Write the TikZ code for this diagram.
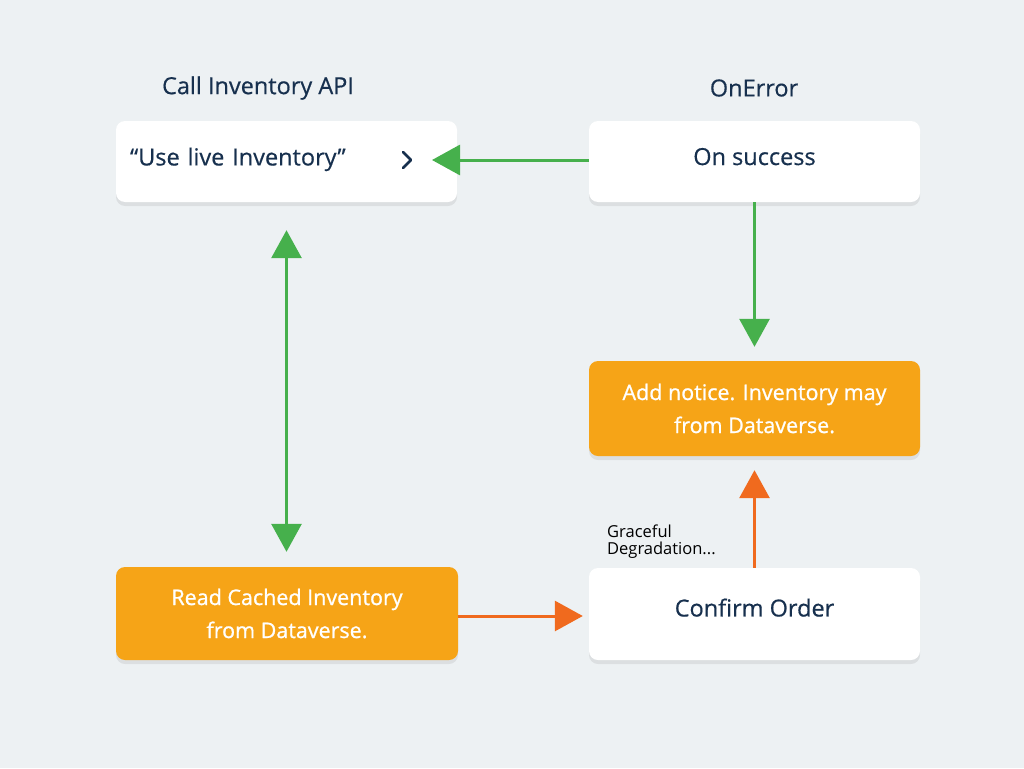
\documentclass[tikz,border=0pt]{standalone}
\usepackage{fontspec}
\setmainfont{Open Sans}
\newfontfamily\medfont{Open Sans}[UprightFeatures={FakeBold=0.5}]
\newfontfamily\semifont{Open Sans}[UprightFeatures={FakeBold=1.0}]
\usetikzlibrary{arrows.meta,shadows,calc}
\definecolor{bg}{HTML}{EDF1F3}
\definecolor{navy}{HTML}{17304E}
\definecolor{boxorange}{HTML}{F6A417}
\definecolor{arrgreen}{HTML}{46B04C}
\definecolor{arrorange}{HTML}{F06A1E}
\tikzset{
  softshadow/.style={drop shadow={shadow xshift=0pt, shadow yshift=-4pt, opacity=0.07, fill=black}},
  whitebox/.style={draw=none, fill=white, rounded corners=9pt, softshadow, text=navy, font=\medfont\fontsize{23.5}{28}\selectfont, align=center, text depth=10pt},
  orangebox/.style={draw=none, fill=boxorange, rounded corners=9pt, softshadow, text=white, font=\semifont\fontsize{21.5}{33}\selectfont, align=center},
  title/.style={text=navy, font=\medfont\fontsize{23.5}{26}\selectfont},
  garrow/.style={draw=arrgreen, line width=3pt, -{Triangle[length=28pt,width=30pt]}},
  gdarrow/.style={draw=arrgreen, line width=3pt, {Triangle[length=28pt,width=30pt]}-{Triangle[length=28pt,width=30pt]}},
  oarrow/.style={draw=arrorange, line width=3pt, -{Triangle[length=28pt,width=30pt]}},
}
\begin{document}
\begin{tikzpicture}[x=1pt,y=-1pt]
\fill[bg] (0,0) rectangle (1024,768);
\useasboundingbox (0,0) rectangle (1024,768);

\node[title] (t1) at (258,88) {Call Inventory API};
\node[title] (t2) at (754,88) {OnError};

\node[whitebox, minimum width=341pt, minimum height=81pt, text width=313pt, align=left] (A) at (286.5,161.5) {“Use live Inventory”};
\node[whitebox, minimum width=331pt, minimum height=81pt] (B) at (754.5,161.5) {On success};
\node[orangebox, minimum width=331pt, minimum height=95pt] (C) at (754.5,408.5) {Add notice. Inventory may\\from Dataverse.};
\node[whitebox, minimum width=331pt, minimum height=92pt, text depth=13pt] (D) at (754.5,614) {Confirm Order};
\node[orangebox, minimum width=342pt, minimum height=93pt] (E) at (287,613.5) {Read Cached Inventory\\from Dataverse.};

\node[anchor=south west, inner sep=0pt, align=left, text=black, font=\fontsize{16.5}{17.5}\selectfont] (g) at (607,559) {Graceful\\Degradation...};

% chevron
\coordinate (chev) at (408,160);
\draw[navy, line width=2.6pt, line cap=round, line join=round] ($(chev)+(-5,-8)$) -- ($(chev)+(3,0)$) -- ($(chev)+(-5,8)$);

\coordinate (atip) at (432,160);
\draw[garrow] (B.west |- atip) -- (atip);
\draw[gdarrow, shorten <=28pt, shorten >=15pt] (A.south) -- (A.south |- E.north);
\draw[garrow, shorten >=14pt] (B.south) -- (C.north);
\draw[oarrow, shorten >=6pt] (E.east |- 0,616) -- (D.west |- 0,616);
\draw[oarrow, shorten >=14pt] (D.north) -- (C.south);
\end{tikzpicture}
\end{document}
